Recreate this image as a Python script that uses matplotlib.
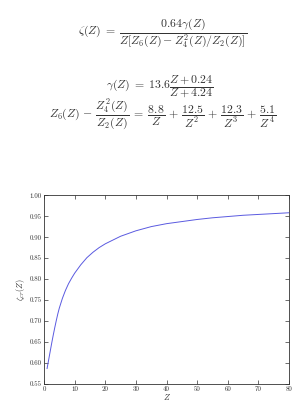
import matplotlib
matplotlib.use("Agg")
import matplotlib.pyplot as plt
from matplotlib.ticker import FuncFormatter

Z_vals = [1, 1.5, 2, 2.5, 3, 3.5, 4, 4.5, 5, 6, 7, 8, 9, 10, 12, 14, 16, 18,
          20, 25, 30, 35, 40, 45, 50, 55, 60, 65, 70, 75, 80]
zeta_vals = [0.587, 0.607, 0.627, 0.647, 0.666, 0.684, 0.701, 0.717, 0.731,
             0.754, 0.773, 0.789, 0.802, 0.814, 0.834, 0.851, 0.864, 0.875,
             0.884, 0.902, 0.915, 0.925, 0.932, 0.937, 0.942, 0.946, 0.949,
             0.952, 0.954, 0.956, 0.958]
x_ticks = [0, 10, 20, 30, 40, 50, 60, 70, 80]
y_ticks = [0.55, 0.60, 0.65, 0.70, 0.75, 0.80, 0.85, 0.90, 0.95, 1.00]

plt.rcParams['mathtext.fontset'] = 'cm'
plt.rcParams['font.family'] = 'serif'
plt.rcParams['font.serif'] = ['cmr10', 'DejaVu Serif']
plt.rcParams['axes.unicode_minus'] = False

fig = plt.figure(figsize=(2.98, 4.04), dpi=100)
fs = 8.5
tc = '#333333'
fig.text(0.547, 0.918,
         r'$\zeta(Z)\;=\;\dfrac{0.64\gamma(Z)}{Z[Z_6(Z) - Z_4^2(Z)/Z_2(Z)]}$',
         ha='center', va='center', fontsize=fs, color=tc)
fig.text(0.537, 0.785,
         r'$\gamma(Z)\;=\;13.6\dfrac{Z+0.24}{Z+4.24}$',
         ha='center', va='center', fontsize=fs, color=tc)
fig.text(0.545, 0.717,
         r'$Z_6(Z)\,-\,\dfrac{Z_4^2(Z)}{Z_2(Z)}\;=\;\dfrac{8.8}{Z}\,+\,\dfrac{12.5}{Z^2}\,+\,\dfrac{12.3}{Z^3}\,+\,\dfrac{5.1}{Z^4}$',
         ha='center', va='center', fontsize=fs, color=tc)

ax = fig.add_axes([0.1477, 0.0495, 0.8223, 0.4675])
ax.plot(Z_vals, zeta_vals, color='#5a5ae0', lw=0.7)
ax.set_xlim(0, 80)
ax.set_ylim(0.55, 1.00)
ax.set_xticks(x_ticks)
ax.set_yticks(y_ticks)
ax.xaxis.set_major_formatter(FuncFormatter(lambda v, p: f'{v:.0f}'))
ax.yaxis.set_major_formatter(FuncFormatter(lambda v, p: f'{v:.2f}'))
ax.tick_params(direction='in', length=3, width=0.5, labelsize=5, pad=1.5,
               top=True, right=True, colors=tc)
for s in ax.spines.values():
    s.set_linewidth(0.6)
    s.set_color(tc)
ax.set_xlabel('$Z$', fontsize=6, labelpad=0, color=tc)
ax.set_ylabel(r'$\zeta_{cr}(Z)$', fontsize=6, labelpad=2, color=tc)

fig.savefig('out.png', dpi=100)
